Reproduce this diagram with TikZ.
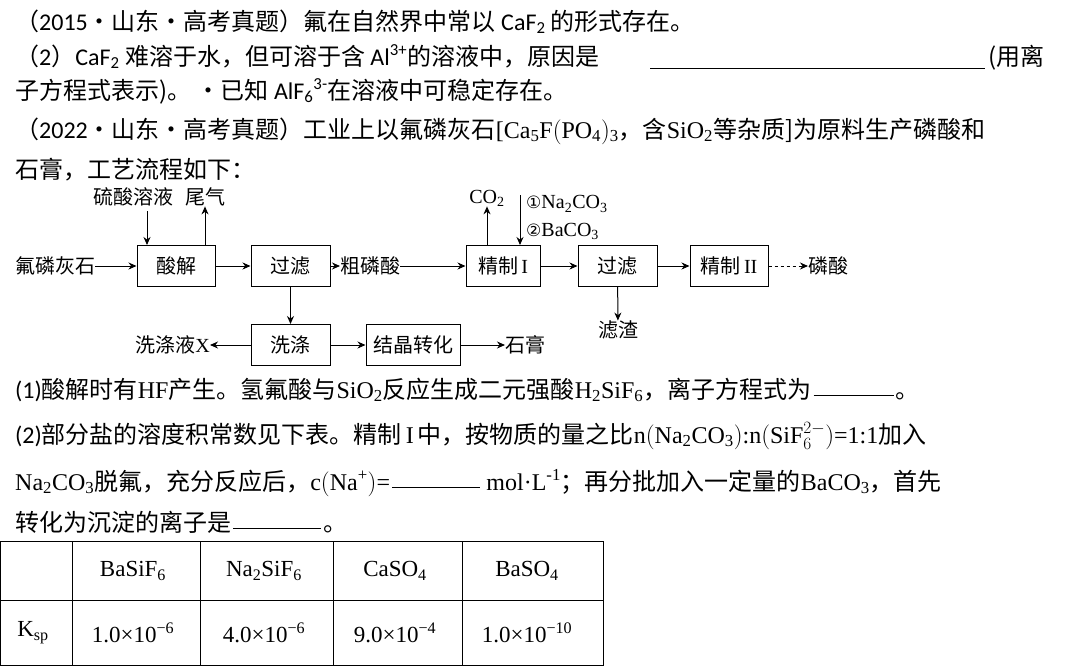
\documentclass[tikz,border=0pt]{standalone}
\usepackage{fontspec}
\setmainfont{Liberation Serif}
\newfontfamily\cjk{Noto Sans CJK SC}
\newfontfamily\calf{Carlito}
\newfontfamily\dvs{DejaVu Sans}
\newcommand{\C}[1]{{\cjk #1}}
\usetikzlibrary{arrows.meta}
\begin{document}
\begin{tikzpicture}[x=1pt,y=-1pt,
  txt/.style={anchor=base west,inner sep=0pt,font=\fontsize{24}{28}\selectfont},
  ftxt/.style={inner sep=0pt,font=\fontsize{20}{24}\selectfont},
  box/.style={draw,line width=1pt,minimum height=41pt,inner sep=0pt,font=\fontsize{20}{24}\selectfont},
  arr/.style={-{Stealth[length=8pt,width=7pt]},line width=1pt},
  ul/.style={line width=0.9pt},
  tl/.style={inner sep=0pt,font=\fontsize{23}{27}\selectfont}]
\useasboundingbox (0,0) rectangle (1080,672);
\fill[white] (0,0) rectangle (1080,672);
% header text
\node[txt] (l1) at (15,30) {\C{（}{\calf 2015}\C{·山东·高考真题）氟在自然界中常以 }{\calf CaF\textsubscript{2}}\C{ 的形式存在。}};
\node[txt] (l2) at (15,65) {\C{（}{\calf 2}\C{）}{\calf CaF\textsubscript{2}}\C{ 难溶于水，但可溶于含 }{\calf Al\textsuperscript{3+}}\C{的溶液中，原因是}};
\draw[ul] (650,68) coordinate (u1) -- (985,68) coordinate (u2);
\node[txt] (l2b) at (988,65) {\C{(用离}};
\node[txt] (l3) at (15,99) {\C{子方程式表示)。 ·已知 }{\calf AlF\textsubscript{6}\textsuperscript{3-}}\C{在溶液中可稳定存在。}};
\node[txt] (l4) at (15,138) {\C{（}{\calf 2022}\C{·山东·高考真题）工业上以氟磷灰石}[Ca\textsubscript{5}F$\bigl($PO\textsubscript{4}$\bigr)$\textsubscript{3}\C{，含}SiO\textsubscript{2}\C{等杂质]为原料生产磷酸和}};
\node[txt] (l5) at (15,178) {\C{石膏，工艺流程如下：}};
% flowchart
\node[box,minimum width=78pt] (sj) at (176,266) {\C{酸解}};
\node[box,minimum width=79pt] (gl) at (290.5,266) {\C{过滤}};
\node[box,minimum width=74pt] (jz1) at (503,266) {\C{精制}\,I};
\node[box,minimum width=79pt] (gl2) at (617.5,266) {\C{过滤}};
\node[box,minimum width=78pt] (jz2) at (729,266) {\C{精制}\,II};
\node[box,minimum width=79pt] (xd) at (290.5,345) {\C{洗涤}};
\node[box,minimum width=94pt] (jj) at (413,345) {\C{结晶转化}};
\node[ftxt,anchor=west] (fl) at (15,266) {\C{氟磷灰石}};
\node[ftxt,anchor=west] (cl) at (340,266) {\C{粗磷酸}};
\node[ftxt,anchor=west] (ls) at (808,266) {\C{磷酸}};
\node[ftxt,anchor=east] (xx) at (210,345) {\C{洗涤液}X};
\node[ftxt,anchor=west] (sg) at (505,345) {\C{石膏}};
\node[ftxt] (zz) at (618,330) {\C{滤渣}};
\node[ftxt] (ly) at (133,197) {\C{硫酸溶液}};
\node[ftxt] (wq) at (205,197) {\C{尾气}};
\node[ftxt] (co) at (487,198) {CO\textsubscript{2}};
\node[ftxt,anchor=west] (na) at (526,204) {{\dvs\fontsize{17}{20}\selectfont ①}Na\textsubscript{2}CO\textsubscript{3}};
\node[ftxt,anchor=west] (ba) at (526,231) {{\dvs\fontsize{17}{20}\selectfont ②}BaCO\textsubscript{3}};
\coordinate (t1) at (147,211);
\coordinate (t2) at (520,195);
\draw[arr] (fl) -- (sj);
\draw[arr] (sj) -- (gl);
\draw[arr] (gl) -- (cl);
\draw[arr] (cl) -- (jz1);
\draw[arr] (jz1) -- (gl2);
\draw[arr] (gl2) -- (jz2);
\draw[arr,dashed] (jz2) -- (ls);
\draw[arr] (gl) -- (xd);
\draw[arr] (xd) -- (xx);
\draw[arr] (xd) -- (jj);
\draw[arr] (jj) -- (sg);
\draw[arr] (gl2) -- (zz);
\draw[arr] (t1) -- (t1 |- sj.north);
\draw[arr] (wq |- sj.north) -- (wq);
\draw[arr] (co |- jz1.north) -- (co);
\draw[arr] (t2) -- (t2 |- jz1.north);
% questions
\node[txt] (q1) at (15,398) {{\calf(1)}\C{酸解时有}HF\C{产生。氢氟酸与}SiO\textsubscript{2}\C{反应生成二元强酸}H\textsubscript{2}SiF\textsubscript{6}\C{，离子方程式为}};
\draw[ul] ([xshift=2pt,yshift=3pt]q1.base east) coordinate (u3) -- ++(80,0) coordinate (u4);
\node[txt] (q1b) at ([xshift=2pt,yshift=-3pt]u4) {\C{。}};
\node[txt] (q2) at (15,443) {{\calf(2)}\C{部分盐的溶度积常数见下表。精制}\,I\,\C{中，按物质的量之比}n$\Bigl($Na\textsubscript{2}CO\textsubscript{3}$\Bigr)$:n$\Bigl($SiF$^{2-}_{6}$$\Bigr)$=1:1\C{加入}};
\node[txt] (q3) at (15,490) {Na\textsubscript{2}CO\textsubscript{3}\C{脱氟，充分反应后，}c$\Bigl($Na\textsuperscript{+}$\Bigr)$=};
\draw[ul] ([xshift=2pt,yshift=3pt]q3.base east) coordinate (u5) -- ++(88,0) coordinate (u6);
\node[txt] (q3b) at ([xshift=6pt,yshift=-3pt]u6) {mol·L\textsuperscript{-1}\C{；再分批加入一定量的}BaCO\textsubscript{3}\C{，首先}};
\node[txt] (q4) at (15,531) {\C{转化为沉淀的离子是}};
\draw[ul] ([xshift=2pt,yshift=3pt]q4.base east) coordinate (u7) -- ++(88,0) coordinate (u8);
\node[txt] (q4b) at ([xshift=2pt,yshift=-3pt]u8) {\C{。}};
% table
\draw[line width=1pt] (0,541) rectangle (603,665);
\draw[line width=1pt] (0,600) -- (603,600);
\foreach \x in {72,200,333,462} \draw[line width=1pt] (\x,541) -- (\x,665);
\node[tl] (h1) at (133,571) {BaSiF\textsubscript{6}};
\node[tl] (h2) at (264,571) {Na\textsubscript{2}SiF\textsubscript{6}};
\node[tl] (h3) at (395,571) {CaSO\textsubscript{4}};
\node[tl] (h4) at (527,571) {BaSO\textsubscript{4}};
\node[tl] (k0) at (33,633) {K\textsubscript{sp}};
\node[tl] (k1) at (133,633) {1.0×10\textsuperscript{−6}};
\node[tl] (k2) at (264,633) {4.0×10\textsuperscript{−6}};
\node[tl] (k3) at (395,633) {9.0×10\textsuperscript{−4}};
\node[tl] (k4) at (527,633) {1.0×10\textsuperscript{−10}};
\end{tikzpicture}
\end{document}
